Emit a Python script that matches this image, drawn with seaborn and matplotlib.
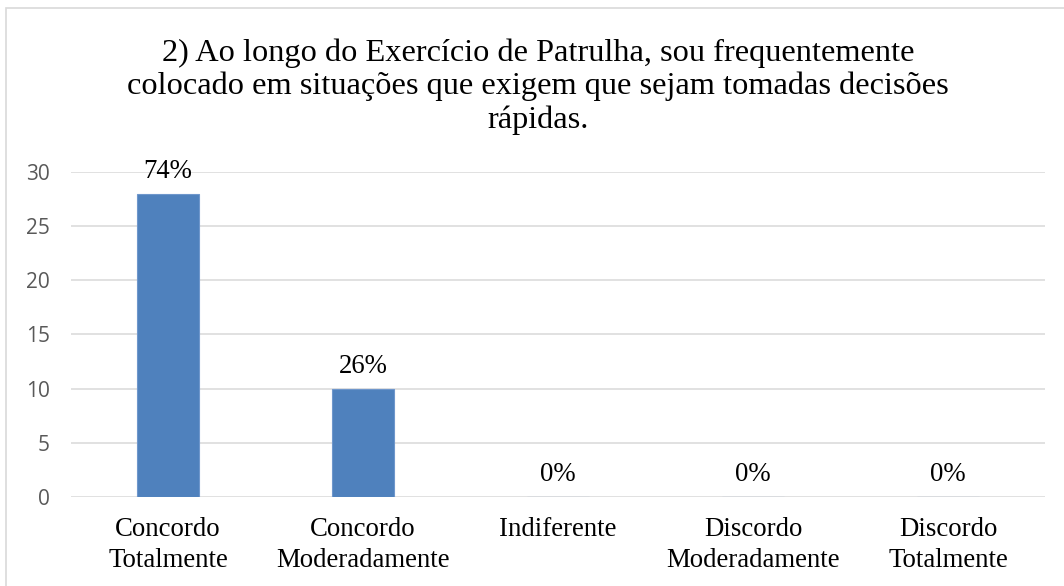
import matplotlib
matplotlib.use("Agg")
import matplotlib.pyplot as plt
from matplotlib.patches import Rectangle
import seaborn as sns
import pandas as pd

# dados
categorias = ["Concordo\nTotalmente", "Concordo\nModeradamente", "Indiferente",
              "Discordo\nModeradamente", "Discordo\nTotalmente"]
respostas = [28, 10, 0, 0, 0]
percentuais = ["74%", "26%", "0%", "0%", "0%"]
titulo = ("2) Ao longo do Exercício de Patrulha, sou frequentemente\n"
          "colocado em situações que exigem que sejam tomadas decisões\n"
          "rápidas.")
yticks = [0, 5, 10, 15, 20, 25, 30]

df = pd.DataFrame({"cat": categorias, "n": respostas})

sns.set_theme(style="white")
serif = ["Liberation Serif", "DejaVu Serif"]

fig = plt.figure(figsize=(10.64, 5.86), dpi=100)
ax = fig.add_axes([0.0663, 0.1519, 0.9163, 0.5546])

sns.barplot(data=df, x="cat", y="n", color="#4F81BD", saturation=1,
            width=0.32, ax=ax, edgecolor="#6F97CC", linewidth=0.8, zorder=3)

ax.set_ylim(0, 30)
ax.set_yticks(yticks)
ax.set_xlim(-0.5, len(categorias) - 0.5)
ax.yaxis.grid(True, color="#D9D9D9", linewidth=1.1, zorder=0)
ax.set_axisbelow(True)
for s in ax.spines.values():
    s.set_visible(False)
ax.set_xlabel("")
ax.set_ylabel("")
ax.tick_params(axis="both", length=0)
ax.tick_params(axis="y", pad=15, labelcolor="#595959")
ax.tick_params(axis="x", pad=14.5)
for lab in ax.get_yticklabels():
    lab.set_fontfamily(["Open Sans", "DejaVu Sans"])
    lab.set_fontsize(15)
for lab in ax.get_xticklabels():
    lab.set_fontfamily(serif)
    lab.set_fontsize(19.3)
    lab.set_color("black")
    lab.set_linespacing(1.3)

for i, (v, p) in enumerate(zip(respostas, percentuais)):
    ax.annotate(p, (i, v), xytext=(0, 11.5), textcoords="offset points",
                ha="center", va="baseline", fontsize=19.3,
                family=serif, color="black")

fig.text(0.5056, 1 - 86.5 / 586, titulo, ha="center", va="center",
         multialignment="center", fontsize=23.3, family=serif,
         color="black", linespacing=1.17)

# moldura cinza do grafico
fig.patches.append(Rectangle((6 / 1064, -0.05), 1.2, 1 - 8 / 586 + 0.05,
                             transform=fig.transFigure, fill=False,
                             edgecolor="#D9D9D9", linewidth=1.2))

fig.savefig("out.png", dpi=100)
